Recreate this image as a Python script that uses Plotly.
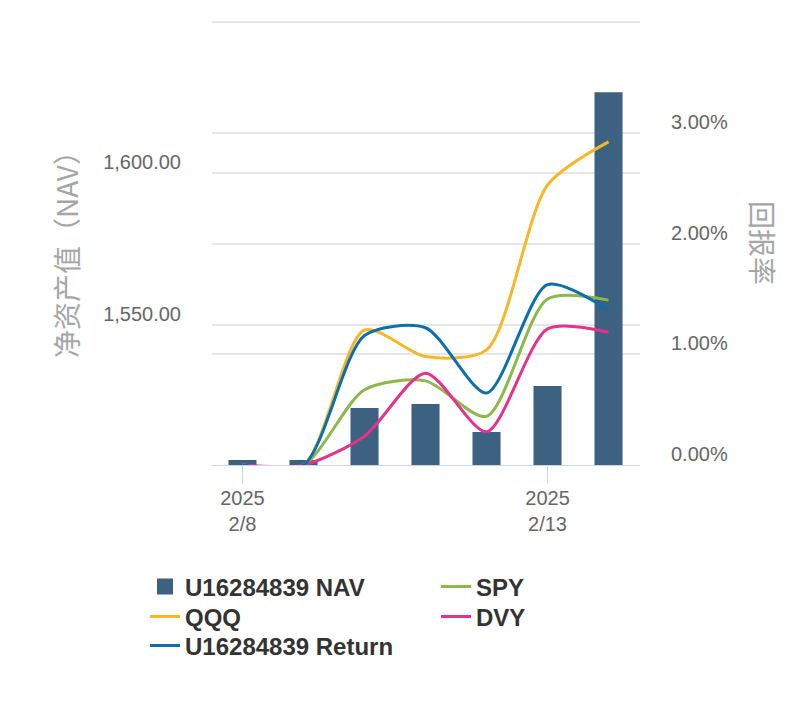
import plotly.graph_objects as go

dates = ["2025-02-08", "2025-02-09", "2025-02-10", "2025-02-11", "2025-02-12", "2025-02-13", "2025-02-14"]
nav = [1505.6, 1505.6, 1522.7, 1524.0, 1514.8, 1529.9, 1626.6]
ret_acct = [0.0, 0.0, 1.17, 1.24, 0.65, 1.63, 1.40]
qqq = [0.0, 0.0, 1.22, 0.98, 1.04, 2.53, 2.92]
spy = [0.0, 0.0, 0.68, 0.76, 0.44, 1.50, 1.49]
dvy = [0.0, 0.0, 0.26, 0.83, 0.30, 1.23, 1.20]

nav_ticks = [1550, 1600, 1650]
nav_ticktext = ["1,550.00", "1,600.00", ""]
ret_ticks = [0, 1, 2, 3, 4]
ret_ticktext = ["0.00%", "1.00%", "2.00%", "3.00%", ""]
x_ticks = ["2025-02-08", "2025-02-13"]
x_ticktext = ["2025<br>2/8", "2025<br>2/13"]

BAR = "#3d6180"
C_QQQ = "#f6b82b"
C_RET = "#0b6fae"
C_SPY = "#8db84b"
C_DVY = "#e3338a"
LATIN = "Liberation Sans, Arial, Helvetica, sans-serif"
CJK = "Noto Sans CJK SC, Liberation Sans, sans-serif"
SMOOTH = 0.75

fig = go.Figure()
fig.add_trace(go.Bar(x=dates, y=nav, marker=dict(color=BAR, line=dict(width=0)),
                     name="U16284839 NAV", showlegend=False, yaxis="y"))

def line(y, name, color, leg):
    return go.Scatter(x=dates, y=y, name=name, mode="lines", yaxis="y2",
                      line=dict(color=color, width=3, shape="spline", smoothing=SMOOTH),
                      legend=leg)

# row 1 legend: NAV, SPY
fig.add_trace(go.Scatter(x=[None], y=[None], mode="markers", name="U16284839 NAV",
                         marker=dict(symbol="square", size=22, color=BAR), legend="legend"))
fig.add_trace(line(spy, "SPY", C_SPY, "legend"))
# row 2 legend: QQQ, DVY
fig.add_trace(line(qqq, "QQQ", C_QQQ, "legend2"))
fig.add_trace(line(dvy, "DVY", C_DVY, "legend2"))
# row 3 legend: Return
fig.add_trace(line(ret_acct, "U16284839 Return", C_RET, "legend3"))


def px_x(px):
    return (px - 212) / 428

def px_y(py):
    return (465 - py) / 445

legfont = dict(size=24, color="#333333", family=LATIN, weight="bold")
leg_common = dict(xanchor="left", yanchor="middle", orientation="h",
                  font=legfont, bgcolor="rgba(0,0,0,0)", traceorder="normal",
                  entrywidth=246, entrywidthmode="pixels")

fig.update_layout(
    width=810, height=708,
    margin=dict(l=212, r=170, t=20, b=243, autoexpand=False),
    paper_bgcolor="white", plot_bgcolor="white",
    bargap=0.54,
    font=dict(family=LATIN, color="#666666", size=20),
    xaxis=dict(type="date", range=["2025-02-07 12:00", "2025-02-14 12:23"],
               tickvals=x_ticks, ticktext=x_ticktext,
               showgrid=False, showline=True, linecolor="#ccd6eb", linewidth=1,
               ticks="outside", ticklen=18, tickcolor="#ccd6eb", tickwidth=1,
               ticklabelstandoff=-3,
               tickfont=dict(size=20, color="#666666", family=LATIN), zeroline=False),
    yaxis=dict(range=[1503.95, 1650.33], tickvals=nav_ticks, ticktext=nav_ticktext,
               showgrid=True, gridcolor="#e6e6e6", gridwidth=1.5, zeroline=False,
               showline=False, ticks="", ticklabelstandoff=30, ticklabelshift=-11,
               tickfont=dict(size=20, color="#666666", family=LATIN)),
    yaxis2=dict(range=[0, 4.021], tickvals=ret_ticks, ticktext=ret_ticktext,
                overlaying="y", side="right",
                showgrid=True, gridcolor="#e6e6e6", gridwidth=1.5, zeroline=False,
                showline=False, ticks="", ticklabelstandoff=30, ticklabelshift=-11,
                tickfont=dict(size=20, color="#666666", family=LATIN)),
    legend=dict(x=px_x(145), y=px_y(587), **leg_common),
    legend2=dict(x=px_x(145), y=px_y(617), **leg_common),
    legend3=dict(x=px_x(145), y=px_y(646), **leg_common),
    annotations=[
        dict(text="净资产值（NAV）", textangle=-90, xref="paper", yref="paper",
             x=px_x(66), y=px_y(248), xanchor="center", yanchor="middle",
             showarrow=False, font=dict(family=CJK, size=28, color="#a6a6a6")),
        dict(text="回报率", textangle=90, xref="paper", yref="paper",
             x=px_x(763), y=px_y(243), xanchor="center", yanchor="middle",
             showarrow=False, font=dict(family=CJK, size=28, color="#a6a6a6")),
    ],
)

fig.write_html("out.html")
